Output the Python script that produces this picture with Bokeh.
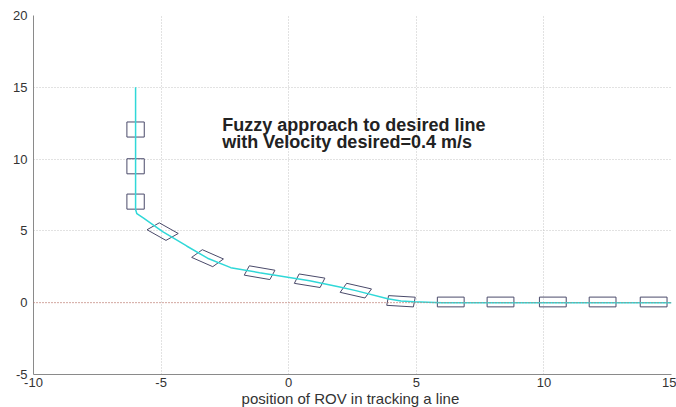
import numpy as np
from bokeh.plotting import figure
from bokeh.models import FixedTicker, Span, Label
from bokeh.embed import file_html
from bokeh.resources import INLINE

# trajectory of the ROV
path_x = [-6, -6, -5.95, -5.7, -4.94, -4.0, -3.18, -2.27, -1.14, 0.82, 2.0, 2.63, 3.88, 4.4, 4.9, 6, 15]
path_y = [15, 6.5, 6.2, 5.9, 4.95, 3.95, 3.1, 2.44, 2.09, 1.53, 1.1, 0.84, 0.28, 0.12, 0.07, 0, 0]

# ROV body snapshots: centre and heading (degrees)
rov_x = [-6, -6, -6, -4.94, -3.18, -1.14, 0.82, 2.63, 4.4, 6.35, 8.3, 10.35, 12.3, 14.3]
rov_y = [12.06, 9.5, 7.04, 4.95, 3.1, 2.09, 1.53, 0.84, 0.1, 0.05, 0.05, 0.05, 0.05, 0.05]
rov_heading = [90, 90, 90, -45, -38, -17, -16, -22, -6, 0, 0, 0, 0, 0]
rov_length = 1.05
rov_width = 0.68

desired_line_y = 0
x_ticks = [-10, -5, 0, 5, 10, 15]
y_ticks = [-5, 0, 5, 10, 15, 20]
annotation = ["Fuzzy approach to desired line", "with Velocity desired=0.4 m/s"]

p = figure(width=676, height=407, output_backend="svg", toolbar_location=None,
           x_range=(-10, 15), y_range=(-5, 20),
           frame_width=638, frame_height=359,
           min_border_left=33, min_border_right=5, min_border_top=15, min_border_bottom=33)
p.outline_line_color = None
p.background_fill_color = "white"

for ax, ticks in ((p.xaxis, x_ticks), (p.yaxis, y_ticks)):
    ax.ticker = FixedTicker(ticks=ticks)
    ax.major_label_overrides = {t: str(t) for t in ticks}
    ax.axis_line_color = "#8a8a8a"
    ax.major_tick_out = 0
    ax.major_tick_in = 0
    ax.minor_tick_line_color = None
    ax.major_label_text_font = "Liberation Sans"
    ax.major_label_text_font_size = "13px"
    ax.major_label_text_color = "#333333"

p.xaxis.major_label_standoff = 3
p.yaxis.major_label_standoff = 6
p.xaxis.axis_label = "position of ROV in  tracking a line"
p.xaxis.axis_label_text_font = "Liberation Sans"
p.xaxis.axis_label_text_font_style = "normal"
p.xaxis.axis_label_text_font_size = "15px"
p.xaxis.axis_label_text_color = "#333333"
p.xaxis.axis_label_standoff = 0

for g in (p.xgrid, p.ygrid):
    g.grid_line_color = "#c4c4c4"
    g.grid_line_dash = "1 2"
    g.grid_line_width = 1

p.add_layout(Span(location=desired_line_y, dimension="width",
                  line_color="#c87060", line_dash="1 2", line_width=1))

# ROV rectangles computed from centre, heading and body size
xs, ys = [], []
for cx, cy, h in zip(rov_x, rov_y, rov_heading):
    t = np.deg2rad(h)
    u = np.array([np.cos(t), np.sin(t)])
    n = np.array([-np.sin(t), np.cos(t)])
    c = np.array([cx, cy])
    pts = [c + a * rov_length / 2 * u + b * rov_width / 2 * n
           for a, b in ((1, 1), (-1, 1), (-1, -1), (1, -1))]
    xs.append([q[0] for q in pts])
    ys.append([q[1] for q in pts])
p.patches(xs, ys, fill_color=None, line_color="#4a4a6a", line_width=1)

p.line(path_x, path_y, line_color="#30d8d8", line_width=1.5)

for txt, yy in zip(annotation, (13.1, 11.9)):
    p.add_layout(Label(x=-2.6, y=yy, text=txt, text_font="Liberation Sans",
                       text_font_size="18px", text_font_style="bold",
                       text_color="#222222", text_baseline="top"))

open("out.html", "w").write(file_html(p, INLINE))
